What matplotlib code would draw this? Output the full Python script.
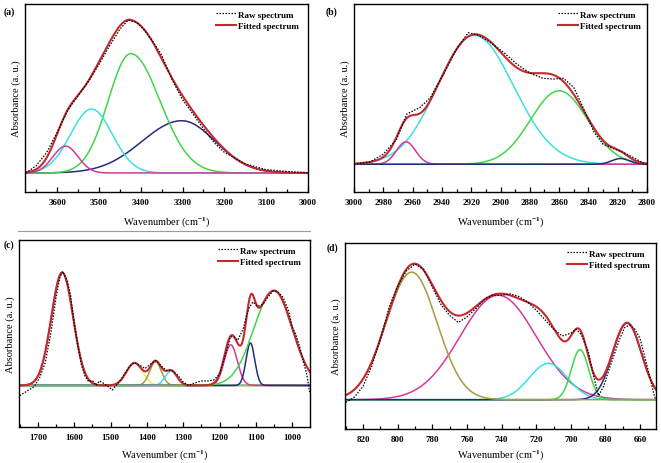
import numpy as np
import matplotlib.pyplot as plt
from matplotlib.lines import Line2D
from matplotlib.ticker import MultipleLocator

plt.rcParams['font.family'] = 'Liberation Serif'
plt.rcParams['font.weight'] = 'bold'
plt.rcParams['mathtext.fontset'] = 'custom'
plt.rcParams['mathtext.rm'] = 'Liberation Serif:bold'
plt.rcParams['mathtext.default'] = 'rm'

# ---- (a) O-H region: fitted peaks (centre, height, width low side, width high side)
a_center = [3302, 3424, 3518, 3580]
a_height = [0.342, 0.78, 0.418, 0.176]
a_sig_lo = [80, 70, 50, 30]
a_sig_hi = [95, 54, 50, 30]
a_raw_x = [3675, 3650, 3625, 3600, 3575, 3550, 3525, 3500, 3475, 3450, 3430, 3410, 3390,
           3370, 3350, 3325, 3300, 3275, 3250, 3225, 3200, 3150, 3100, 3050, 3000]
a_raw_y = [0.0, 0.048, 0.135, 0.266, 0.41, 0.505, 0.60, 0.71, 0.83, 0.94, 1.0, 0.985, 0.93,
           0.855, 0.77, 0.61, 0.48, 0.385, 0.29, 0.2, 0.135, 0.06, 0.022, 0.01, 0.002]

# ---- (b) C-H region
b_center = [2918, 2860, 2964.5, 2818]
b_height = [0.99, 0.564, 0.172, 0.044]
b_sig_lo = [27, 19.5, 6.5, 6]
b_sig_hi = [25, 19.5, 6.5, 6]
b_raw_x = [3000, 2989, 2980, 2971, 2964, 2955, 2948, 2939, 2930, 2922, 2915, 2907, 2898,
           2889, 2880, 2871, 2864, 2857, 2850, 2843, 2836, 2830, 2823, 2816, 2809, 2802, 2800]
b_raw_y = [0.0, 0.018, 0.077, 0.19, 0.385, 0.436, 0.51, 0.69, 0.885, 1.01, 0.99, 0.935, 0.86,
           0.77, 0.70, 0.66, 0.654, 0.66, 0.59, 0.42, 0.244, 0.154, 0.12, 0.09, 0.05, 0.005, 0.0]

# ---- (c) fingerprint region
c_center = [1633, 1434, 1376, 1333, 1169, 1115, 1050]
c_height = [1.0, 0.2, 0.21, 0.13, 0.36, 0.376, 0.84]
c_sig_lo = [30, 22, 16, 16, 18, 12, 50]
c_sig_hi = [30, 22, 16, 16, 18, 12, 55]
c_raw_x = [1750, 1730, 1710, 1695, 1680, 1665, 1650, 1640, 1632, 1620, 1610, 1600, 1590,
           1580, 1570, 1560, 1550, 1540, 1530, 1520, 1510, 1495, 1485, 1470, 1450, 1435,
           1420, 1405, 1390, 1375, 1360, 1345, 1330, 1315, 1300, 1285, 1270, 1250, 1230,
           1215, 1200, 1185, 1170, 1160, 1150, 1135, 1120, 1108, 1095, 1080, 1065, 1052,
           1040, 1025, 1010, 1000, 990, 980, 970, 960, 952]
c_raw_y = [-0.09, -0.05, -0.01, 0.07, 0.2, 0.45, 0.78, 0.95, 1.01, 0.93, 0.8, 0.55, 0.35,
           0.18, 0.08, 0.035, 0.045, 0.0, 0.04, 0.02, 0.0, -0.04, 0.0, 0.06, 0.16, 0.2,
           0.18, 0.15, 0.19, 0.22, 0.17, 0.13, 0.13, 0.09, 0.03, 0.0, 0.02, 0.04, 0.04,
           0.05, 0.1, 0.26, 0.43, 0.43, 0.4, 0.5, 0.68, 0.74, 0.7, 0.72, 0.79, 0.84,
           0.83, 0.78, 0.66, 0.52, 0.45, 0.35, 0.22, 0.1, -0.06]

# ---- (d) low wavenumber region
d_center = [742, 713, 694.7, 667.5, 792]
d_height = [0.77, 0.268, 0.369, 0.565, 0.94]
d_sig_lo = [22, 11, 5, 8.3, 14.7]
d_sig_hi = [22, 11, 5, 8.3, 14.7]
d_raw_x = [830, 825, 820, 815, 810, 805, 800, 795, 790, 785, 780, 775, 770, 765, 760, 755,
           750, 745, 740, 735, 730, 725, 720, 715, 710, 705, 700, 697, 694, 690, 687, 684,
           681, 678, 675, 672, 669, 666, 663, 660, 657, 654, 652, 651]
d_raw_y = [-0.02, 0.02, 0.1, 0.25, 0.45, 0.68, 0.84, 0.95, 1.0, 0.96, 0.83, 0.7, 0.62, 0.57,
           0.61, 0.67, 0.74, 0.77, 0.77, 0.78, 0.76, 0.72, 0.66, 0.59, 0.52, 0.47, 0.49,
           0.52, 0.48, 0.36, 0.18, 0.03, 0.1, 0.22, 0.33, 0.44, 0.53, 0.55, 0.52, 0.45,
           0.3, 0.15, 0.04, 0.0]

RED = '#c62a30'
MAG = '#d2399a'
CYAN = '#38e2e2'
GREEN = '#3fd64a'
NAVY = '#262b7a'
OLIVE = '#a59c3a'
YELLOW = '#ecec6a'

W, H = 661, 464
fig = plt.figure(figsize=(6.61, 4.64), dpi=100)


def add_ax(l, r, t, b):
    return fig.add_axes([l / W, 1 - b / H, (r - l) / W, (b - t) / H])


def peak(x, c, h, s_lo, s_hi):
    s = np.where(x < c, s_lo, s_hi)
    return h * np.exp(-(x - c) ** 2 / (2 * s ** 2))


def draw(ax, xlim, ylim, centers, heights, s_lo, s_hi, colors, raw_x, raw_y, major, minor,
         leg_anchor, xpad):
    x = np.linspace(min(xlim), max(xlim), 1500)
    total = np.zeros_like(x)
    for c, h, sl, sh, col in zip(centers, heights, s_lo, s_hi, colors):
        y = peak(x, c, h, sl, sh)
        total += y
        ax.plot(x, y, color=col, lw=1.1)
    fit, = ax.plot(x, total, color=RED, lw=1.5)
    raw, = ax.plot(raw_x, raw_y, color='k', ls=(0, (1.2, 1.2)), lw=0.9)
    ax.set_xlim(xlim)
    ax.set_ylim(ylim)
    ax.set_yticks([])
    ax.xaxis.set_major_locator(MultipleLocator(major))
    ax.xaxis.set_minor_locator(MultipleLocator(minor))
    ax.tick_params(axis='x', which='both', direction='in', labelsize=6.5, pad=4, width=0.9)
    ax.tick_params(axis='x', which='major', length=3.5)
    ax.tick_params(axis='x', which='minor', length=2)
    for sp in ax.spines.values():
        sp.set_linewidth(1.0)
    ax.set_xlabel('Wavenumber (cm$^{-1}$)', fontsize=7.5, labelpad=xpad)
    ax.set_ylabel('Absorbance (a. u.)', fontsize=7.5, labelpad=3)
    ax.legend([raw, fit], ['Raw spectrum', 'Fitted spectrum'], loc='upper right',
              bbox_to_anchor=leg_anchor, frameon=False, fontsize=6.5, handlelength=2.2,
              handletextpad=0.2, labelspacing=0.3, borderaxespad=0.3)


ax_a = add_ax(25, 308, 5, 193)
draw(ax_a, (3677, 3000), (-0.124, 1.105), a_center, a_height, a_sig_lo, a_sig_hi,
     [NAVY, GREEN, CYAN, MAG], a_raw_x, a_raw_y, 100, 50, (0.99, 1.0), 6)

ax_b = add_ax(354, 647, 5, 193)
draw(ax_b, (3000, 2800), (-0.213, 1.23), b_center, b_height, b_sig_lo, b_sig_hi,
     [CYAN, GREEN, MAG, NAVY], b_raw_x, b_raw_y, 20, 10, (1.0, 1.0), 6)

ax_c = add_ax(19, 310, 241, 428)
draw(ax_c, (1752, 951), (-0.368, 1.288), c_center, c_height, c_sig_lo, c_sig_hi,
     [RED, YELLOW, OLIVE, CYAN, MAG, NAVY, GREEN], c_raw_x, c_raw_y, 100, 50, (0.99, 1.0), 5)

ax_d = add_ax(345, 656, 244, 430)
draw(ax_d, (830.5, 650.8), (-0.216, 1.155), d_center, d_height, d_sig_lo, d_sig_hi,
     [MAG, CYAN, GREEN, NAVY, OLIVE], d_raw_x, d_raw_y, 20, 10, (1.0, 1.0), 3.5)

for lbl, xp, yp in [('(a)', 4, 12), ('(b)', 326, 12), ('(c)', 4, 245), ('(d)', 327, 248)]:
    fig.text(xp / W, 1 - yp / H, lbl, fontsize=7, va='center', ha='left')

fig.add_artist(Line2D([18 / W, 310 / W], [1 - 232 / H, 1 - 232 / H], color='#9a9a9a', lw=0.8))

fig.savefig('out.png', dpi=100)
